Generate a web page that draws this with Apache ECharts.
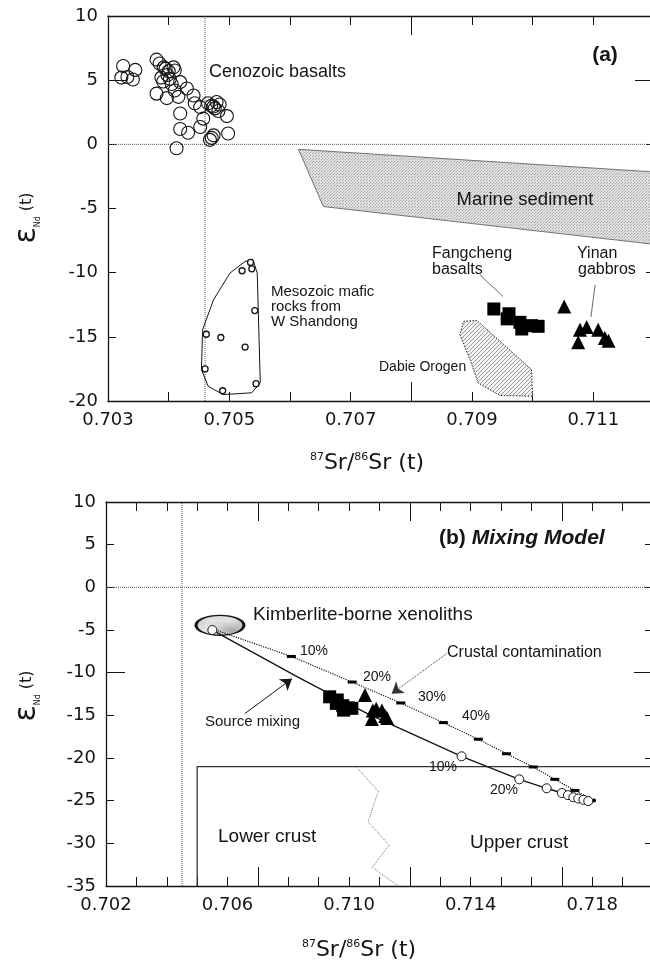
<!DOCTYPE html>
<html>
<head>
<meta charset="utf-8">
<script src="https://cdn.jsdelivr.net/npm/echarts@6/dist/echarts.min.js"></script>
<style>
html, body { margin: 0; padding: 0; background: #fff; }
#main { width: 650px; height: 964px; }
</style>
</head>
<body>
<div id="main"></div>
<script>
// ---- panel (a) ----
var cenozoic = [
  [0.70325,6.1],[0.70345,5.8],[0.70322,5.2],[0.70341,5.05],[0.70332,5.25],
  [0.70380,6.6],[0.70385,6.3],[0.70392,6.0],[0.70400,5.7],[0.70408,6.0],[0.70410,5.75],
  [0.70398,5.4],[0.70395,5.9],[0.70388,5.2],[0.70402,5.1],[0.70391,4.9],[0.70405,4.7],
  [0.70419,4.85],[0.70380,3.95],[0.70397,3.6],[0.70416,3.7],[0.70410,4.2],[0.70430,4.35],
  [0.70441,3.8],[0.70443,3.2],[0.70452,2.9],[0.70419,2.4],[0.70419,1.2],[0.70432,0.9],
  [0.70413,-0.3],[0.70457,2.0],[0.70452,1.35],[0.70465,3.2],[0.70474,2.95],[0.70479,3.3],
  [0.70482,2.6],[0.70470,3.0],[0.70476,2.8],[0.70484,3.1],[0.70496,2.2],[0.70498,0.85],
  [0.70474,0.7],[0.70468,0.35],[0.70471,0.5]
];
var mesozoic = [
  [0.70535,-9.2],[0.70537,-9.7],[0.70521,-9.85],[0.70542,-12.95],[0.70462,-14.8],
  [0.70486,-15.05],[0.70526,-15.8],[0.70460,-17.5],[0.70544,-18.65],[0.70489,-19.2]
];
var mesozoicEnvelope = [
  [0.70456,-14.44],[0.70474,-12.11],[0.70501,-10.03],[0.70526,-9.13],[0.70539,-9.0],
  [0.70546,-10.03],[0.70551,-18.58],[0.70537,-19.36],[0.70490,-19.5],[0.70465,-18.85],
  [0.70454,-17.55]
];
var fangcheng = [
  [0.70936,-12.83],[0.70961,-13.2],[0.70958,-13.6],[0.70979,-13.87],
  [0.70982,-14.39],[0.70998,-14.13],[0.71009,-14.18]
];
var yinan = [
  [0.71052,-12.63],[0.71078,-14.44],[0.71089,-14.23],[0.71108,-14.44],
  [0.71075,-15.43],[0.71119,-15.09],[0.71125,-15.3]
];
var marineSediment = [[0.70614,-0.39],[0.71200,-2.15],[0.71200,-7.79],[0.70655,-4.85]];
var dabieOrogen = [
  [0.70886,-13.79],[0.70908,-13.72],[0.70998,-17.55],[0.71000,-19.63],
  [0.70946,-19.57],[0.70910,-18.59],[0.70897,-16.79],[0.70880,-14.85]
];
var leaderFangcheng = [[0.70913,-10.16],[0.70951,-11.85]];
var leaderYinan = [[0.71103,-10.94],[0.71096,-13.45]];
var refLineA = [[0.7046,-20],[0.7046,10]];
var zeroLineA = [[0.703,0],[0.712,0]];
var xLabelsA = [0.703, 0.705, 0.707, 0.709, 0.711];

// ---- panel (b) ----
var kimberlite = [[0.70575,-4.45]];
var mixStart = [[0.7055,-5.0]];
var sourceCurve = [
  [0.7055,-5.0],[0.7058,-5.6],[0.7083,-10.5],[0.7106,-14.8],[0.7137,-19.8],[0.7156,-22.5],
  [0.7165,-23.55],[0.7170,-24.1],[0.7172,-24.35],[0.71738,-24.6],[0.71754,-24.75],
  [0.71771,-24.9],[0.71787,-25.05]
];
var sourceSteps = [
  [0.7137,-19.8],[0.7156,-22.5],[0.7165,-23.55],[0.7170,-24.1],[0.7172,-24.35],
  [0.71738,-24.6],[0.71754,-24.75],[0.71771,-24.9],[0.71787,-25.05]
];
var crustCurve = [
  [0.7056,-5.0],[0.7081,-8.1],[0.7101,-11.1],[0.7117,-13.55],[0.7131,-15.85],[0.71425,-17.8],
  [0.71518,-19.5],[0.71606,-21.05],[0.71677,-22.5],[0.71743,-23.8],[0.71806,-24.97]
];
var crustSteps = [
  [0.7081,-8.1],[0.7101,-11.1],[0.7117,-13.55],[0.7131,-15.85],[0.71425,-17.8],
  [0.71518,-19.5],[0.71606,-21.05],[0.71677,-22.5],[0.71743,-23.8]
];
var crustEnd = [[0.71806,-24.97]];
var crustBox = [[0.705,-35],[0.705,-21],[0.720,-21]];
var crustDivide = [[0.71025,-21.1],[0.71096,-23.9],[0.71062,-27.5],[0.71132,-30.2],[0.71076,-32.8],[0.71162,-35.0]];
var arrowSource = [[0.70657,-14.8],[0.70812,-10.7]];
var arrowCrust = [[0.71321,-7.77],[0.7114,-12.46]];
var refLineB = [[0.7045,-35],[0.7045,10]];
var zeroLineB = [[0.702,0],[0.720,0]];
var xLabelsB = [0.702, 0.706, 0.710, 0.714, 0.718];

var INK = '#151515';
var AXF = 'DejaVu Sans';
var TXF = 'Liberation Sans';

function pattern(w, h, draw) {
  var c = document.createElement('canvas');
  c.width = w; c.height = h;
  draw(c.getContext('2d'));
  return {type: 'pattern', image: c, repeat: 'repeat'};
}
var stipple = pattern(3, 3, function (ctx) {
  ctx.fillStyle = '#e2e2e2'; ctx.fillRect(0, 0, 3, 3);
  ctx.fillStyle = '#a8a8a8'; ctx.fillRect(0, 0, 1, 1); ctx.fillRect(1, 2, 1, 1);
  ctx.fillStyle = '#c8c8c8'; ctx.fillRect(2, 1, 1, 1);
});
var hatch = pattern(4, 4, function (ctx) {
  ctx.fillStyle = '#f4f4f4'; ctx.fillRect(0, 0, 4, 4);
  ctx.fillStyle = '#9c9c9c';
  ctx.fillRect(3, 0, 1, 1); ctx.fillRect(2, 1, 1, 1); ctx.fillRect(1, 2, 1, 1); ctx.fillRect(0, 3, 1, 1);
});

function xAxes(g, min, max, labels) {
  var line = {onZero: false, lineStyle: {color: INK, width: 1.3}};
  var base = {gridIndex: g, type: 'value', min: min, max: max, splitLine: {show: false}};
  return [
    Object.assign({}, base, {position: 'bottom', interval: 0.001, axisLine: line,
      axisTick: {inside: true, length: 9, lineStyle: {color: INK}},
      axisLabel: {margin: 10, fontFamily: AXF, fontSize: 18, color: INK,
        formatter: function (v) {
          return labels.some(function (l) { return Math.abs(l - v) < 1e-7; }) ? v.toFixed(3) : '';
        }}}),
    Object.assign({}, base, {position: 'top', interval: 0.001, axisLine: line,
      axisTick: {inside: true, length: 9, lineStyle: {color: INK}}, axisLabel: {show: false}}),
    Object.assign({}, base, {position: 'bottom', interval: 0.005, axisLine: {show: false, onZero: false},
      axisTick: {inside: true, length: 19, lineStyle: {color: INK}}, axisLabel: {show: false}}),
    Object.assign({}, base, {position: 'top', interval: 0.005, axisLine: {show: false, onZero: false},
      axisTick: {inside: true, length: 19, lineStyle: {color: INK}}, axisLabel: {show: false}})
  ];
}
function yAxes(g, min, max) {
  var line = {onZero: false, lineStyle: {color: INK, width: 1.3}};
  var base = {gridIndex: g, type: 'value', min: min, max: max, splitLine: {show: false}};
  return [
    Object.assign({}, base, {position: 'left', interval: 5, axisLine: line,
      axisTick: {inside: true, length: 8, lineStyle: {color: INK}},
      axisLabel: {margin: 10, fontFamily: AXF, fontSize: 18, color: INK}}),
    Object.assign({}, base, {position: 'right', interval: 5, axisLine: line,
      axisTick: {inside: true, length: 8, lineStyle: {color: INK}}, axisLabel: {show: false}}),
    Object.assign({}, base, {position: 'left', interval: 25, axisLine: {show: false, onZero: false},
      axisTick: {inside: true, length: 19, lineStyle: {color: INK}}, axisLabel: {show: false}}),
    Object.assign({}, base, {position: 'right', interval: 25, axisLine: {show: false, onZero: false},
      axisTick: {inside: true, length: 19, lineStyle: {color: INK}}, axisLabel: {show: false}})
  ];
}

function polygon(pts, ai, style, z) {
  return {type: 'custom', xAxisIndex: ai, yAxisIndex: ai, data: [pts[0]], silent: true, z: z,
    renderItem: function (params, api) {
      return {type: 'polygon', shape: {points: pts.map(function (p) { return api.coord(p); })}, style: style};
    }};
}
function line(data, ai, style, z) {
  return {type: 'line', xAxisIndex: ai, yAxisIndex: ai, data: data, showSymbol: false, symbol: 'none',
    silent: true, z: z || 3, lineStyle: style};
}
function dots(data, ai, symbol, size, style, z) {
  return {type: 'scatter', xAxisIndex: ai, yAxisIndex: ai, data: data, symbol: symbol, symbolSize: size,
    silent: true, z: z, itemStyle: Object.assign({opacity: 1}, style)};
}
var refStyle = {color: '#555', width: 1, type: 'dotted'};

function T(x, y, text, size, extra) {
  return {type: 'text', x: x, y: y, silent: true, z: 100,
    style: Object.assign({text: text, fontFamily: TXF, fontSize: size, fill: INK,
      align: 'left', verticalAlign: 'middle'}, extra || {})};
}
function yTitle(x, y) {
  return {type: 'text', x: x, y: y, rotation: Math.PI / 2, silent: true, z: 100,
    style: {text: '{e|ε}{s|Nd}{t| (t)}', align: 'center', verticalAlign: 'middle', fill: INK,
      rich: {e: {fontFamily: AXF, fontSize: 30, fill: INK},
             s: {fontFamily: AXF, fontSize: 8, fill: INK, verticalAlign: 'bottom'},
             t: {fontFamily: AXF, fontSize: 16, fill: INK}}}};
}
function xTitle(x, y) {
  return {type: 'text', x: x, y: y, silent: true, z: 100,
    style: {text: '{p|87}{m|Sr/}{p|86}{m|Sr (t)}', align: 'center', verticalAlign: 'middle', fill: INK,
      rich: {p: {fontFamily: AXF, fontSize: 11, fill: INK, verticalAlign: 'top'},
             m: {fontFamily: AXF, fontSize: 22, fill: INK}}}};
}

var chart = echarts.init(document.getElementById('main'), null, {renderer: 'canvas'});
var option = {
  animation: false,
  backgroundColor: '#fff',
  grid: [
    {left: 108, top: 16, width: 546, height: 385, outerBoundsMode: 'none', containLabel: false},
    {left: 106, top: 502, width: 547, height: 384, outerBoundsMode: 'none', containLabel: false}
  ],
  xAxis: xAxes(0, 0.703, 0.712, xLabelsA).concat(xAxes(1, 0.702, 0.720, xLabelsB)),
  yAxis: yAxes(0, -20, 10).concat(yAxes(1, -35, 10)),
  series: [
    // panel (a)
    line(refLineA, 0, refStyle, 1),
    line(zeroLineA, 0, refStyle, 1),
    polygon(marineSediment, 0, {fill: stipple, stroke: '#555', lineWidth: 0.8}, 2),
    polygon(dabieOrogen, 0, {fill: hatch, stroke: '#222', lineWidth: 1, lineDash: [1.5, 1.5]}, 2),
    polygon(mesozoicEnvelope, 0, {fill: 'none', stroke: INK, lineWidth: 1}, 2),
    line(leaderFangcheng, 0, {color: '#444', width: 0.8}),
    line(leaderYinan, 0, {color: '#444', width: 0.8}),
    dots(cenozoic, 0, 'circle', 13, {color: 'rgba(255,255,255,0)', borderColor: INK, borderWidth: 1.1}, 4),
    dots(mesozoic, 0, 'circle', 6, {color: '#fff', borderColor: INK, borderWidth: 1.3}, 4),
    dots(fangcheng, 0, 'rect', 13, {color: '#000'}, 4),
    dots(yinan, 0, 'triangle', 14, {color: '#000'}, 4),

    // panel (b)
    line(refLineB, 4, refStyle, 1),
    line(zeroLineB, 4, refStyle, 1),
    line(crustBox, 4, {color: '#333', width: 1.3}, 2),
    line(crustDivide, 4, {color: '#777', width: 1, type: 'dotted'}, 2),
    dots(kimberlite, 4, 'circle', [48, 20], {color: stipple, borderColor: INK, borderWidth: 2}, 3),
    Object.assign(line(sourceCurve, 4, {color: INK, width: 1.4}, 4), {
      markLine: {silent: true, symbol: ['none', 'arrow'], symbolSize: 11, precision: 6, label: {show: false},
        data: [[{coord: arrowSource[0], lineStyle: {color: INK, width: 1, type: 'solid', curveness: 0.35}},
                {coord: arrowSource[1]}]]}}),
    Object.assign(line(crustCurve, 4, {color: INK, width: 1.2, type: 'dotted'}, 4), {
      markLine: {silent: true, symbol: ['none', 'arrow'], symbolSize: 11, precision: 6, label: {show: false},
        data: [[{coord: arrowCrust[0], lineStyle: {color: '#333', width: 1, type: 'dotted', curveness: -0.35}},
                {coord: arrowCrust[1]}]]}}),
    dots(crustSteps, 4, 'rect', [9, 3], {color: '#000'}, 5),
    dots(crustEnd, 4, 'circle', 4, {color: '#000'}, 5),
    dots(sourceSteps.concat(mixStart), 4, 'circle', 9, {color: '#fff', borderColor: INK, borderWidth: 1}, 6),
    dots(fangcheng, 4, 'rect', 13, {color: '#000'}, 6),
    dots(yinan, 4, 'triangle', 14, {color: '#000'}, 6)
  ],
  graphic: [
    // panel (a) texts
    T(209, 72, 'Cenozoic basalts', 18),
    T(525, 200, 'Marine sediment', 18.5, {align: 'center'}),
    T(432, 254, 'Fangcheng', 16),
    T(432, 270, 'basalts', 16),
    T(577, 254, 'Yinan', 16),
    T(578, 270, 'gabbros', 16),
    T(271, 292, 'Mesozoic mafic', 15),
    T(271, 307, 'rocks from', 15),
    T(271, 322, 'W Shandong', 15),
    T(379, 367, 'Dabie Orogen', 14),
    T(605, 55, '(a)', 21, {align: 'center', fontWeight: 'bold'}),
    yTitle(27, 218),
    xTitle(367, 463),
    // panel (b) texts
    {type: 'text', x: 439, y: 538, silent: true, z: 100,
      style: {text: '{n|(b) }{i|Mixing Model}', verticalAlign: 'middle', align: 'left', fill: INK,
        rich: {n: {fontFamily: TXF, fontSize: 21, fontWeight: 'bold', fill: INK},
               i: {fontFamily: TXF, fontSize: 21, fontWeight: 'bold', fontStyle: 'italic', fill: INK}}}},
    T(253, 615, 'Kimberlite-borne xenoliths', 19),
    T(447, 653, 'Crustal contamination', 16),
    T(205, 722, 'Source mixing', 15),
    T(300, 651, '10%', 14),
    T(363, 677, '20%', 14),
    T(418, 697, '30%', 14),
    T(462, 716, '40%', 14),
    T(429, 767, '10%', 14),
    T(490, 790, '20%', 14),
    T(218, 837, 'Lower crust', 19),
    T(470, 843, 'Upper crust', 19),
    yTitle(27, 696),
    xTitle(359, 950)
  ]
};
chart.setOption(option);
</script>
</body>
</html>
